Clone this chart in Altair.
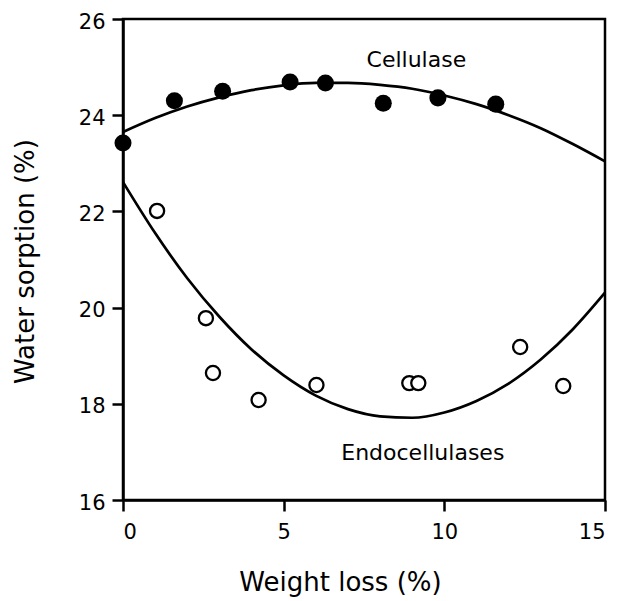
import altair as alt
import pandas as pd

# Measured points
cell_x = [0.0, 1.6, 3.1, 5.2, 6.3, 8.1, 9.8, 11.6]
cell_y = [23.42, 24.30, 24.50, 24.69, 24.67, 24.25, 24.36, 24.23]
endo_x = [1.06, 2.58, 2.80, 4.22, 6.02, 8.91, 9.19, 12.36, 13.70]
endo_y = [22.01, 19.78, 18.64, 18.08, 18.39, 18.43, 18.43, 19.18, 18.37]

# Fitted curves
fit_x = [0, 1, 2, 3, 4, 5, 6, 7, 8, 9, 10, 11, 12, 13, 14, 15]
cell_fit = [23.65, 23.94, 24.18, 24.37, 24.52, 24.62, 24.67, 24.67, 24.63, 24.55, 24.41, 24.23, 24.00, 23.73, 23.40, 23.04]
endo_fit = [22.61, 21.55, 20.61, 19.81, 19.13, 18.59, 18.17, 17.89, 17.74, 17.71, 17.82, 18.06, 18.42, 18.92, 19.55, 20.31]

# Curve labels
label_text = ["Cellulase", "Endocellulases"]
label_x = [9.13, 9.33]
label_y = [25.15, 16.97]

x_ticks = [0, 5, 10, 15]
y_ticks = [16, 18, 20, 22, 24, 26]

FONT = "DejaVu Sans"

cell_df = pd.DataFrame({"x": cell_x, "y": cell_y})
endo_df = pd.DataFrame({"x": endo_x, "y": endo_y})
fit_df = pd.concat([
    pd.DataFrame({"x": fit_x, "y": cell_fit, "s": "Cellulase"}),
    pd.DataFrame({"x": fit_x, "y": endo_fit, "s": "Endocellulases"}),
])
lab_df = pd.DataFrame({"x": label_x, "y": label_y, "t": label_text})

xs = alt.Scale(domain=[0, 15], nice=False)
ys = alt.Scale(domain=[16, 26], nice=False)

X = alt.X("x:Q", scale=xs, axis=alt.Axis(
    values=x_ticks, title="Weight loss (%)", format="d",
    titleX=217, titleY=90, titleBaseline="alphabetic", titleAlign="center",
    labelPadding=10))
Y = alt.Y("y:Q", scale=ys, axis=alt.Axis(
    values=y_ticks, title="Water sorption (%)", format="d",
    titleX=-90, titleY=242, titleBaseline="alphabetic", titleAlign="center",
    titleAngle=270, labelPadding=7, labelOffset=3))

lines = alt.Chart(fit_df).mark_line(color="black", strokeWidth=2.7, interpolate="monotone").encode(
    x=X, y=Y, detail="s:N")

filled = alt.Chart(cell_df).mark_point(
    shape="circle", filled=True, color="black", size=290, opacity=1).encode(x=X, y=Y)

hollow = alt.Chart(endo_df).mark_point(
    shape="circle", filled=True, fill="white", stroke="black", strokeWidth=2.3,
    size=200, opacity=1).encode(x=X, y=Y)

labels = alt.Chart(lab_df).mark_text(
    font=FONT, fontSize=22, color="black", align="center", baseline="middle").encode(
    x=X, y=Y, text="t:N")

chart = alt.layer(lines, filled, hollow, labels).properties(
    width=482, height=481,
    autosize=alt.AutoSizeParams(type="none"),
    padding={"left": 115, "top": 11, "right": 6, "bottom": 100},
).configure_view(
    stroke="black", strokeWidth=2.5
).configure_axis(
    grid=False, domainColor="black", domainWidth=2.5,
    tickColor="black", tickWidth=2.5, tickSize=11,
    labelFont=FONT, labelFontSize=21, labelColor="black",
    titleFont=FONT, titleFontSize=26, titleColor="black", titleFontWeight="normal",
)

chart.save("out.html", embed_options={"renderer": "svg", "actions": False})
